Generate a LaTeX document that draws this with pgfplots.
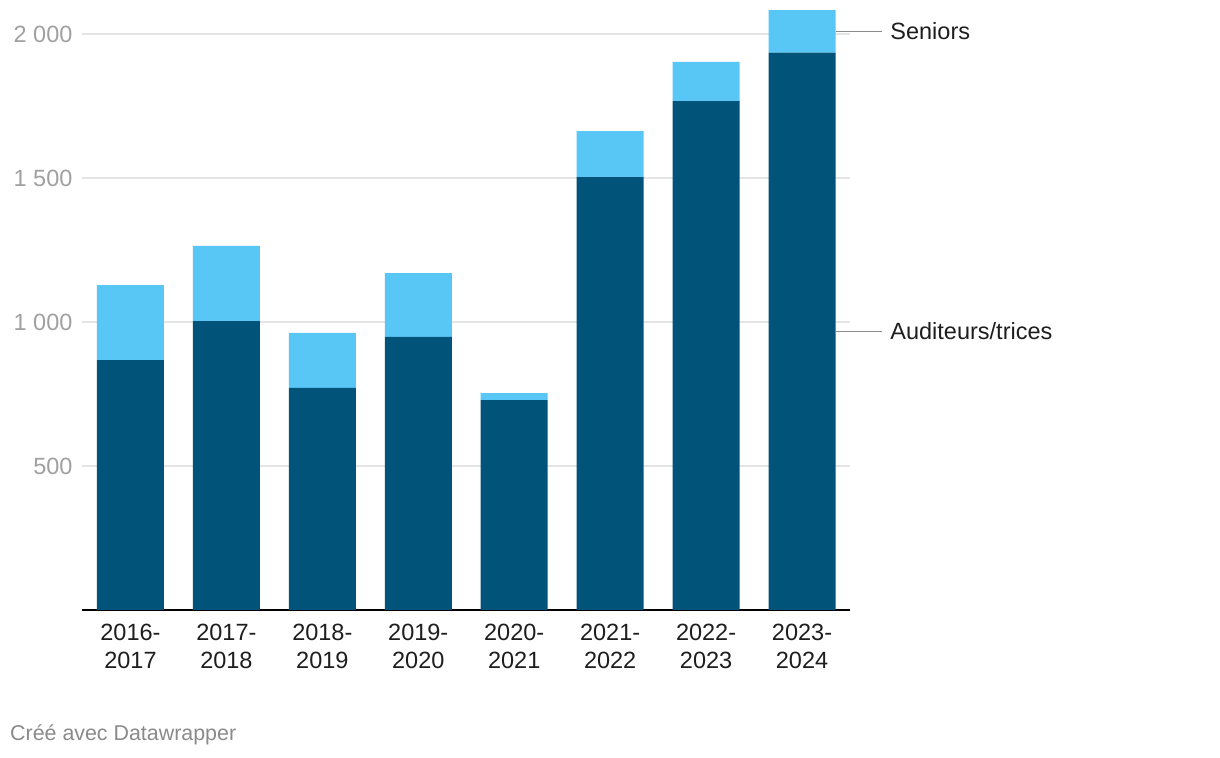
\documentclass[border=0pt]{standalone}
\usepackage{pgfplots}
\pgfplotsset{compat=1.18}
\usepackage{fontspec}
\setmainfont{Liberation Sans}
\definecolor{dark}{HTML}{02537A}
\definecolor{light}{HTML}{58C7F5}
\definecolor{gridc}{HTML}{E5E5E5}
\definecolor{tickc}{HTML}{A0A0A0}
\definecolor{capc}{HTML}{8A8A8A}
\definecolor{linec}{HTML}{8C8C8C}
\definecolor{txt}{HTML}{1E1E1E}
\begin{document}
\begin{tikzpicture}
\path[use as bounding box] (0,0) rectangle (1220bp,758bp);
\begin{axis}[
  at={(82bp,148bp)}, anchor=south west,
  scale only axis, width=768bp, height=604.8bp,
  xmin=-0.505, xmax=7.5, ymin=0, ymax=2100,
  ybar stacked, bar width=67bp,
  axis line style={draw=none},
  major tick length=0,
  clip=false,
  xtick={0,1,2,3,4,5,6,7},
  xticklabels={{2016-\\2017},{2017-\\2018},{2018-\\2019},{2019-\\2020},{2020-\\2021},{2021-\\2022},{2022-\\2023},{2023-\\2024}},
  xticklabel style={font=\fontsize{23.5bp}{28bp}\selectfont, align=center, text=txt, yshift=-11bp},
  ytick={500,1000,1500,2000},
  yticklabels={500,1 000,1 500,2 000},
  yticklabel style={font=\fontsize{23.5bp}{26bp}\selectfont, text=tickc, anchor=east, xshift=-6bp},
  ymajorgrids, grid style={color=gridc, line width=1.3bp},
]
\addplot[fill=dark, draw=none] coordinates {(0,868) (1,1003) (2,771) (3,948) (4,729) (5,1503) (6,1767) (7,1935)};
\addplot[fill=light, draw=none] coordinates {(0,260) (1,261) (2,191) (3,222) (4,24) (5,160) (6,136) (7,148)};
\draw[black, line width=2bp] (rel axis cs:0,0) -- (rel axis cs:1,0);
\draw[linec, line width=1.5bp] (axis cs:7.35,2009) -- (axis cs:7.83,2009) node[right, inner sep=0pt, xshift=8bp, text=txt, font=\fontsize{23.5bp}{26bp}\selectfont] {Seniors};
\draw[linec, line width=1.5bp] (axis cs:7.35,967.5) -- (axis cs:7.83,967.5) node[right, inner sep=0pt, xshift=8bp, text=txt, font=\fontsize{23.5bp}{26bp}\selectfont] {Auditeurs/trices};
\end{axis}
\node[anchor=west, inner sep=0pt, text=capc, font=\fontsize{21.4bp}{24bp}\selectfont] at (10bp,23bp) {Créé avec Datawrapper};
\end{tikzpicture}
\end{document}
